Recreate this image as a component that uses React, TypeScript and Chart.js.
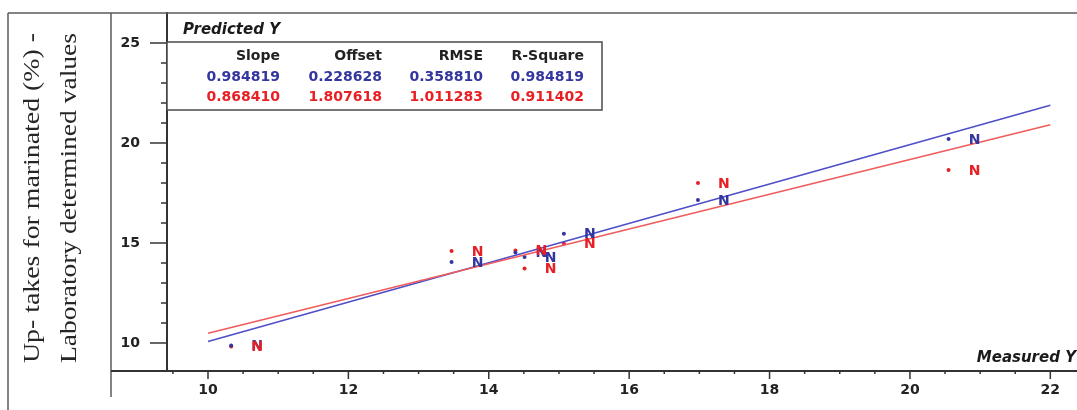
import React, { useEffect, useRef } from 'react';
import { Chart, registerables } from 'chart.js';

Chart.register(...registerables);

// ---- data ----
const measured = [10.33, 13.47, 14.38, 14.51, 15.07, 16.98, 20.55];
const predictedBlue = [9.88, 14.05, 14.52, 14.3, 15.46, 17.15, 20.2];
const predictedRed = [9.82, 14.6, 14.62, 13.72, 14.98, 18.0, 18.65];
const sampleLabels = ['N', 'N', 'N', 'N', 'N', 'N', 'N'];

const lineX = [10, 22];
const blueLineY = [10.08, 21.89];
const redLineY = [10.49, 20.91];

const statHeaders = ['Slope', 'Offset', 'RMSE', 'R-Square'];
const blueStats = ['0.984819', '0.228628', '0.358810', '0.984819'];
const redStats = ['0.868410', '1.807618', '1.011283', '0.911402'];

const xTickValues = [9.5, 10, 10.5, 11, 11.5, 12, 12.5, 13, 13.5, 14, 14.5, 15, 15.5, 16, 16.5, 17, 17.5, 18, 18.5, 19, 19.5, 20, 20.5, 21, 21.5, 22];
const xLabelValues = [10, 12, 14, 16, 18, 20, 22];
const yTickValues = [10, 11, 12, 13, 14, 15, 16, 17, 18, 19, 20, 21, 22, 23, 24, 25];
const yLabelValues = [10, 15, 20, 25];

const yTitleLines = ['Up- takes for marinated (%) -', 'Laboratory determined values'];
const boxTitle = 'Predicted Y';
const xTitle = 'Measured Y';

const BLUE_TXT = 'rgb(52,54,160)';
const RED_TXT = 'rgb(232,32,36)';
const BLUE_LINE = 'rgb(78,78,200)';
const RED_LINE = 'rgb(240,92,92)';
const AXIS = '#333333';
const FONT_B = '"DejaVu Sans", sans-serif';

const zeroPad = (s: any) => {
  s.paddingTop = 0;
  s.paddingBottom = 0;
  s.paddingLeft = 0;
  s.paddingRight = 0;
};

const decor = {
  id: 'decor',
  afterDatasetsDraw(chart: any) {
    const ctx = chart.ctx;
    ctx.save();
    ctx.font = `bold 14px ${FONT_B}`;
    ctx.textAlign = 'center';
    ctx.textBaseline = 'middle';
    [2, 3].forEach((di) => {
      const meta = chart.getDatasetMeta(di);
      ctx.fillStyle = di === 2 ? BLUE_TXT : RED_TXT;
      meta.data.forEach((el: any, i: number) => {
        ctx.fillText(sampleLabels[i], el.x + 26, el.y + 1);
      });
    });
    ctx.restore();
  },
  afterDraw(chart: any) {
    const ctx = chart.ctx;
    const { left, right, top, bottom } = chart.chartArea;
    const xs = chart.scales.x;
    const ys = chart.scales.y;
    const line = (x1: number, y1: number, x2: number, y2: number) => {
      ctx.beginPath();
      ctx.moveTo(x1, y1);
      ctx.lineTo(x2, y2);
      ctx.stroke();
    };
    ctx.save();
    // outer frame
    ctx.strokeStyle = '#5a5a5a';
    ctx.lineWidth = 1.5;
    line(8, top, right, top);
    line(8, top, 8, chart.height);
    line(111, top, 111, 397);
    // x-axis extension to the left
    ctx.strokeStyle = AXIS;
    ctx.lineWidth = 2;
    line(111, bottom, left, bottom);
    // tick marks
    ctx.lineWidth = 1.5;
    yTickValues.forEach((v) => {
      const py = ys.getPixelForValue(v);
      const major = yLabelValues.includes(v);
      line(left - (major ? 17 : 6), py, left, py);
    });
    xTickValues.forEach((v) => {
      const px = xs.getPixelForValue(v);
      const major = xLabelValues.includes(v);
      line(px, bottom, px, bottom + (major ? 8 : 3));
    });

    // stats box
    ctx.fillStyle = '#ffffff';
    ctx.fillRect(left, 42, 602 - left, 68);
    ctx.strokeStyle = '#4a4a4a';
    ctx.lineWidth = 1.5;
    ctx.strokeRect(left, 42, 602 - left, 68);
    const colRight = [280, 382, 483, 584];
    ctx.font = `bold 14px ${FONT_B}`;
    ctx.textAlign = 'right';
    ctx.textBaseline = 'alphabetic';
    statHeaders.forEach((h, i) => {
      ctx.fillStyle = '#222222';
      ctx.fillText(h, colRight[i], 60);
      ctx.fillStyle = BLUE_TXT;
      ctx.fillText(blueStats[i], colRight[i], 80.5);
      ctx.fillStyle = RED_TXT;
      ctx.fillText(redStats[i], colRight[i], 100.5);
    });

    // titles
    ctx.fillStyle = '#1a1a1a';
    ctx.font = `italic bold 15px ${FONT_B}`;
    ctx.textAlign = 'left';
    ctx.fillText(boxTitle, 183, 34);
    ctx.textAlign = 'right';
    ctx.fillText(xTitle, 1076, 361.5);

    // y title (two lines, rotated)
    ctx.font = '24px "Liberation Serif", serif';
    ctx.fillStyle = '#262626';
    ctx.textAlign = 'center';
    const baselines = [39, 76];
    const targetLen = 330;
    yTitleLines.forEach((t, i) => {
      const w = ctx.measureText(t).width;
      ctx.save();
      ctx.translate(baselines[i], 198);
      ctx.rotate(-Math.PI / 2);
      ctx.scale(targetLen / w, 1);
      ctx.fillText(t, 0, 0);
      ctx.restore();
    });
    ctx.restore();
  },
};

export default function App() {
  const ref = useRef<HTMLCanvasElement | null>(null);
  useEffect(() => {
    if (!ref.current) return;
    const tickFont = { family: FONT_B, size: 14, weight: 'bold' as const };
    const chart = new Chart(ref.current, {
      type: 'scatter',
      data: {
        datasets: [
          {
            data: lineX.map((x, i) => ({ x, y: redLineY[i] })),
            showLine: true,
            borderColor: RED_LINE,
            borderWidth: 1.6,
            pointRadius: 0,
          },
          {
            data: lineX.map((x, i) => ({ x, y: blueLineY[i] })),
            showLine: true,
            borderColor: BLUE_LINE,
            borderWidth: 1.6,
            pointRadius: 0,
          },
          {
            data: measured.map((x, i) => ({ x, y: predictedBlue[i] })),
            pointRadius: 2,
            pointBorderWidth: 0,
            backgroundColor: BLUE_TXT,
            borderColor: BLUE_TXT,
          },
          {
            data: measured.map((x, i) => ({ x, y: predictedRed[i] })),
            pointRadius: 2,
            pointBorderWidth: 0,
            backgroundColor: RED_TXT,
            borderColor: RED_TXT,
          },
        ],
      },
      options: {
        animation: false,
        responsive: false,
        devicePixelRatio: 1,
        layout: { autoPadding: false, padding: { top: 13, left: 0, right: 0, bottom: 0 } },
        plugins: { legend: { display: false }, tooltip: { enabled: false } },
        scales: {
          x: {
            type: 'linear',
            min: 9.416,
            max: 22.38,
            afterBuildTicks: (s: any) => {
              s.ticks = xTickValues.map((v) => ({ value: v }));
            },
            afterFit: (s: any) => {
              s.height = 39;
              zeroPad(s);
            },
            grid: { display: false, drawTicks: false },
            border: { display: true, color: AXIS, width: 2 },
            ticks: {
              autoSkip: false,
              maxRotation: 0,
              padding: 11,
              color: '#222222',
              font: tickFont,
              callback: (v: any) => (xLabelValues.includes(Number(v)) ? String(v) : ''),
            },
          },
          y: {
            type: 'linear',
            min: 8.6,
            max: 26.5,
            afterBuildTicks: (s: any) => {
              s.ticks = yTickValues.map((v) => ({ value: v }));
            },
            afterFit: (s: any) => {
              s.width = 167;
              zeroPad(s);
            },
            grid: { display: false, drawTicks: false },
            border: { display: true, color: AXIS, width: 2 },
            ticks: {
              autoSkip: false,
              padding: 27,
              color: '#222222',
              font: tickFont,
              callback: (v: any) => (yLabelValues.includes(Number(v)) ? String(v) : ''),
            },
          },
        },
      },
      plugins: [decor],
    } as any);
    return () => chart.destroy();
  }, []);
  return (
    <div style={{ position: 'fixed', left: 0, top: 0, width: 1077, height: 410, background: '#fff' }}>
      <canvas ref={ref} width={1077} height={410} style={{ display: 'block', width: 1077, height: 410 }} />
    </div>
  );
}
